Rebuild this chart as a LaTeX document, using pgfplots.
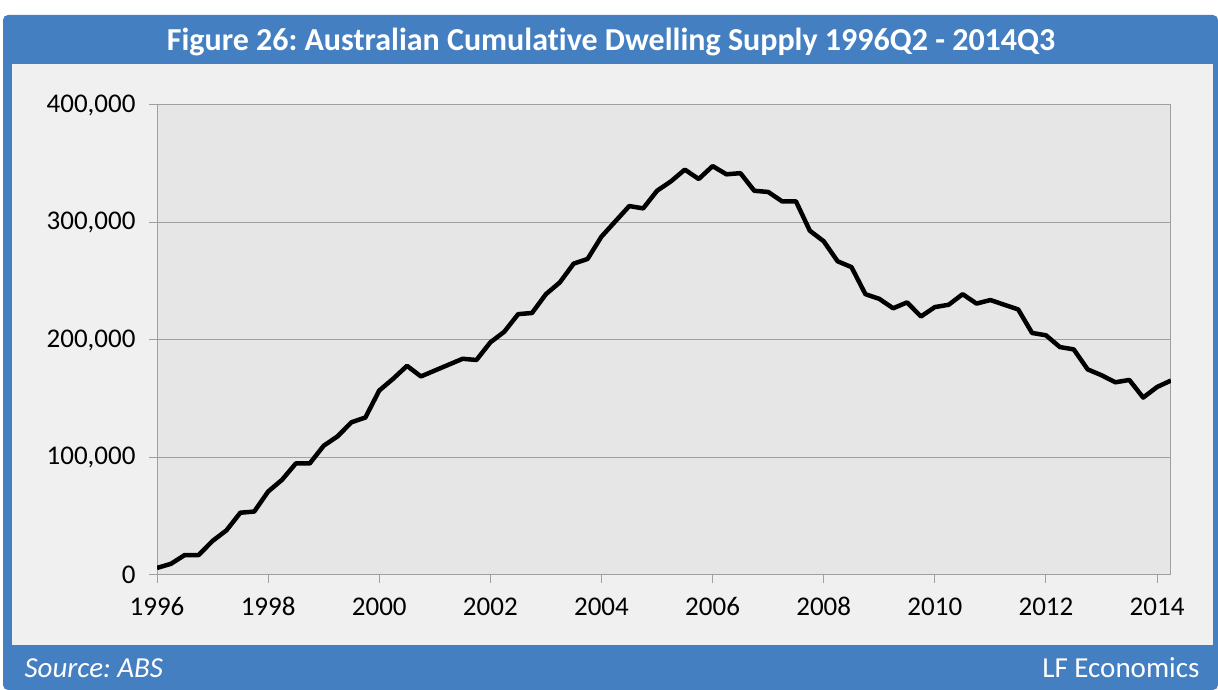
\documentclass[border=0pt]{standalone}
\usepackage{pgfplots}
\pgfplotsset{compat=1.18}
\usepackage{pgfplotstable}
\usepackage{fontspec}
\setmainfont{Carlito}[Ligatures=NoCommon]
\frenchspacing
\definecolor{frameblue}{RGB}{68,127,194}
\definecolor{innergray}{RGB}{240,240,240}
\definecolor{plotgray}{RGB}{230,230,230}
\definecolor{gridgray}{RGB}{160,160,160}
\pgfplotstableread{
x y
1996.00 6000
1996.25 9500
1996.50 17000
1996.75 17000
1997.00 29000
1997.25 38000
1997.50 53000
1997.75 54000
1998.00 71000
1998.25 81000
1998.50 95000
1998.75 95000
1999.00 110000
1999.25 118000
1999.50 130000
1999.75 134000
2000.00 157000
2000.25 167000
2000.50 178000
2000.75 169000
2001.00 174000
2001.25 179000
2001.50 184000
2001.75 183000
2002.00 198000
2002.25 207000
2002.50 222000
2002.75 223000
2003.00 239000
2003.25 249000
2003.50 265000
2003.75 269000
2004.00 288000
2004.25 301000
2004.50 314000
2004.75 312000
2005.00 327000
2005.25 335000
2005.50 345000
2005.75 337000
2006.00 348000
2006.25 341000
2006.50 342000
2006.75 327000
2007.00 326000
2007.25 318000
2007.50 318000
2007.75 293000
2008.00 284000
2008.25 267000
2008.50 262000
2008.75 239000
2009.00 235000
2009.25 227000
2009.50 232000
2009.75 220000
2010.00 228000
2010.25 230000
2010.50 239000
2010.75 231000
2011.00 234000
2011.25 230000
2011.50 226000
2011.75 206000
2012.00 204000
2012.25 194000
2012.50 192000
2012.75 175000
2013.00 170000
2013.25 164000
2013.50 166000
2013.75 151000
2014.00 160000
2014.25 165500
}\supply
\begin{document}
\begin{tikzpicture}[x=1pt,y=1pt]
\fill[white] (0,0) rectangle (1218,690);
\fill[frameblue, rounded corners=5pt] (3,0) rectangle (1218,675);
\fill[innergray] (12,45) rectangle (1213,626);
\node[text=white, font=\fontsize{32}{36}\selectfont\bfseries] at (611,648) {Figure 26: Australian Cumulative Dwelling Supply 1996Q2 - 2014Q3};
\node[text=white, anchor=west, font=\fontsize{29}{33}\selectfont\itshape] at (21,22) {Source: ABS};
\node[text=white, anchor=east, font=\fontsize{29}{33}\selectfont] at (1203,22) {LF Economics};
\begin{axis}[
  at={(157pt,115pt)}, anchor=south west,
  scale only axis, width=1014pt, height=470pt,
  xmin=1996, xmax=2014.25, ymin=0, ymax=400000,
  scaled y ticks=false, scaled x ticks=false,
  /pgf/number format/assume math mode=true,
  xtick={1996,1998,...,2014},
  xticklabels={1996,1998,2000,2002,2004,2006,2008,2010,2012,2014},
  ytick={0,100000,200000,300000,400000},
  yticklabels={0,{100,000},{200,000},{300,000},{400,000}},
  tick pos=left, tick align=outside, major tick length=8pt,
  tick style={gridgray, line width=1pt},
  axis line style={gridgray, line width=1pt},
  ymajorgrids, major grid style={gridgray, line width=1pt},
  axis background/.style={fill=plotgray},
  tick label style={font=\fontsize{27}{30}\selectfont},
  yticklabel style={xshift=-10pt},
  xticklabel style={yshift=-11pt},
]
\addplot[black, line width=4.5pt, line join=round] table[x=x,y=y] {\supply};
\end{axis}
\end{tikzpicture}
\end{document}
